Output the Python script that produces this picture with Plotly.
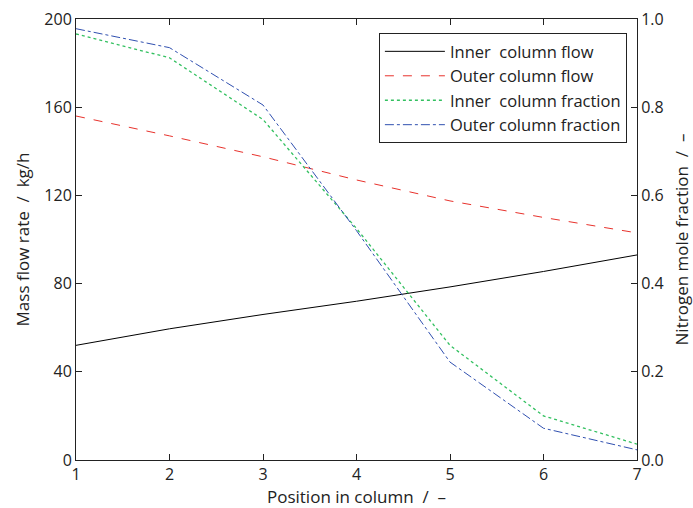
import plotly.graph_objects as go

positions = [1, 2, 3, 4, 5, 6, 7]
inner_flow = [52, 59.5, 66, 72, 78.5, 85.5, 93]
outer_flow = [156, 147, 137.5, 127, 117.5, 110, 103]
inner_fraction = [0.966, 0.912, 0.772, 0.525, 0.26, 0.10, 0.036]
outer_fraction = [0.978, 0.935, 0.805, 0.52, 0.222, 0.072, 0.023]

left_ticks = [0, 40, 80, 120, 160, 200]
right_ticks = [0.0, 0.2, 0.4, 0.6, 0.8, 1.0]

FONT = "Open Sans"

fig = go.Figure()
fig.add_trace(go.Scatter(x=positions, y=inner_flow, mode="lines", name="Inner  column flow",
                         line=dict(color="black", width=1)))
fig.add_trace(go.Scatter(x=positions, y=outer_flow, mode="lines", name="Outer column flow",
                         line=dict(color="#e8322c", width=1, dash="dash")))
fig.add_trace(go.Scatter(x=positions, y=inner_fraction, mode="lines", name="Inner  column fraction",
                         line=dict(color="#33c060", width=1.3, dash="dot"), yaxis="y2"))
fig.add_trace(go.Scatter(x=positions, y=outer_fraction, mode="lines", name="Outer column fraction",
                         line=dict(color="#3050b0", width=1, dash="dashdot"), yaxis="y2"))

axis_common = dict(showline=True, linecolor="#222", linewidth=1, ticks="inside", ticklen=6,
                   tickcolor="#222", showgrid=False, zeroline=False, automargin=False,
                   tickfont=dict(family=FONT, size=16, color="#222"))

fig.update_layout(
    width=693, height=508,
    margin=dict(l=76, r=56, t=19, b=48),
    paper_bgcolor="white", plot_bgcolor="white",
    font=dict(family=FONT, size=16, color="#222"),
    xaxis=dict(range=[1, 7], tickvals=positions, mirror="ticks",
               title=dict(text="Position in column  /  \u2013", font=dict(family=FONT, size=17), standoff=4),
               **axis_common),
    yaxis=dict(range=[0, 200], tickvals=left_ticks,
               title=dict(text="Mass flow rate  /  kg/h", font=dict(family=FONT, size=17), standoff=10),
               **axis_common),
    yaxis2=dict(range=[0, 1], tickvals=right_ticks, tickformat=".1f", overlaying="y", side="right",
                title=dict(text="Nitrogen mole fraction  /  \u2013", font=dict(family=FONT, size=17), standoff=14),
                **axis_common),
    legend=dict(x=0.982, y=0.968, xanchor="right", yanchor="top", bgcolor="white",
                bordercolor="#222", borderwidth=1, font=dict(family=FONT, size=16.5, color="#222"),
                tracegroupgap=0, itemwidth=60),
    showlegend=True,
)

fig.write_html("out.html")
